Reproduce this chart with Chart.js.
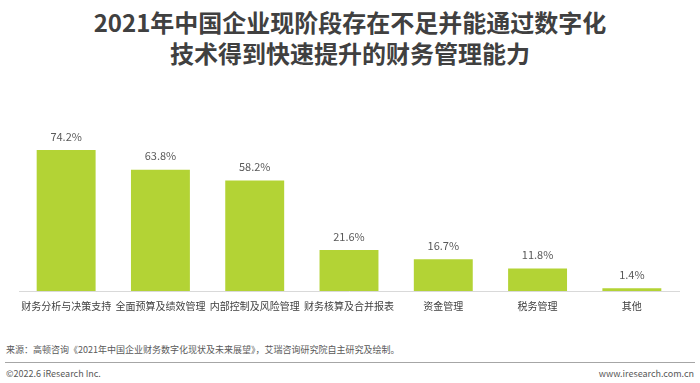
<!DOCTYPE html>
<html>
<head>
<meta charset="utf-8">
<script src="https://cdn.jsdelivr.net/npm/chart.js@4"></script>
<style>
  body { margin: 0; width: 700px; height: 383px; background: #fff; position: relative; overflow: hidden;
         font-family: "Noto Sans CJK SC", "Noto Sans", sans-serif; }
  #title { position: absolute; top: 6px; left: 0; width: 700px; text-align: center; font-size: 24px;
           font-weight: bold; color: #404040; line-height: 31px; }
  #box { position: absolute; left: 0; top: 100px; width: 700px; height: 229px; }
  #src { position: absolute; left: 6px; top: 343px; font-size: 9px; color: #595959; }
  #rule { position: absolute; left: 5px; right: 5px; top: 362px; height: 1px; background: #a6a6a6; }
  #copy { position: absolute; left: 6px; top: 367px; font-size: 9px; color: #595959; }
  #site { position: absolute; right: 6px; top: 367px; font-size: 9px; color: #595959; }
</style>
</head>
<body>
<div id="title">2021年中国企业现阶段存在不足并能通过数字化<br>技术得到快速提升的财务管理能力</div>
<div id="box"><canvas id="chart"></canvas></div>
<div id="src">来源：高顿咨询《2021年中国企业财务数字化现状及未来展望》，艾瑞咨询研究院自主研究及绘制。</div>
<div id="rule"></div>
<div id="copy">©2022.6 iResearch Inc.</div>
<div id="site">www.iresearch.com.cn</div>
<script>
const categories = ['财务分析与决策支持', '全面预算及绩效管理', '内部控制及风险管理', '财务核算及合并报表', '资金管理', '税务管理', '其他'];
const shares = [74.2, 63.8, 58.2, 21.6, 16.7, 11.8, 1.4];

const valueLabels = {
    id: 'valueLabels',
    afterDatasetsDraw(chart) {
        const ctx = chart.ctx;
        ctx.save();
        ctx.font = '11px "Noto Sans CJK SC", "Noto Sans", sans-serif';
        ctx.fillStyle = '#595959';
        ctx.textAlign = 'center';
        ctx.textBaseline = 'bottom';
        chart.getDatasetMeta(0).data.forEach((bar, i) => {
            ctx.fillText(shares[i].toFixed(1) + '%', bar.x, bar.y - 8);
        });
        ctx.restore();
    }
};

new Chart(document.getElementById('chart'), {
    type: 'bar',
    data: {
        labels: categories,
        datasets: [{
            data: shares,
            backgroundColor: '#b3d335',
            categoryPercentage: 1,
            barPercentage: 0.625
        }]
    },
    options: {
        responsive: true,
        maintainAspectRatio: false,
        animation: false,
        layout: { padding: { left: 19, right: 21, top: 20, bottom: 16 } },
        plugins: { legend: { display: false }, tooltip: { enabled: false } },
        scales: {
            x: {
                grid: { display: false },
                border: { display: true, color: '#d9d9d9', width: 1 },
                ticks: {
                    padding: 1,
                    color: '#404040',
                    maxRotation: 0,
                    autoSkip: false,
                    font: { size: 10, family: '"Noto Sans CJK SC", "Noto Sans", sans-serif' }
                }
            },
            y: { display: false, min: 0, max: 90 }
        }
    },
    plugins: [valueLabels]
});
</script>
</body>
</html>
